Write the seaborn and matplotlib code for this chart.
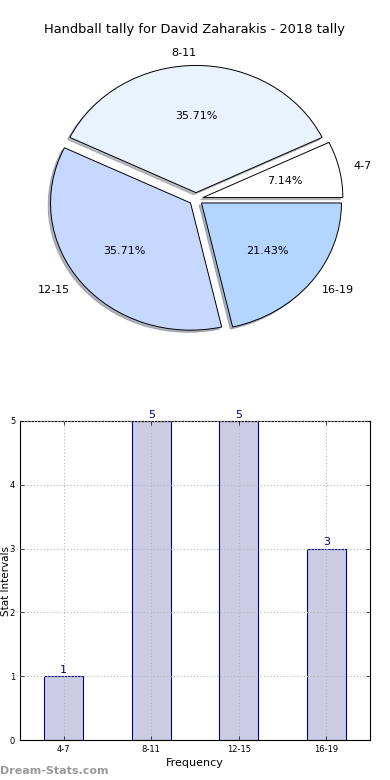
import seaborn as sns
import matplotlib
matplotlib.use("Agg")
import matplotlib.pyplot as plt
import pandas as pd

# data
ranges = ["4-7", "8-11", "12-15", "16-19"]
counts = [1, 5, 5, 3]
pie_colors = ["#ffffff", "#eaf1ff", "#c6d8ff", "#b3d5ff"]
bar_face = "#ccccE5"
bar_edge = "#000080"

plt.rcParams["font.family"] = ["DejaVu Sans"]
plt.rcParams["xtick.direction"] = "in"
plt.rcParams["ytick.direction"] = "in"
plt.rcParams["xtick.top"] = True
plt.rcParams["ytick.right"] = True

fig = plt.figure(figsize=(3.9, 7.8), dpi=100)
ax_pie = fig.add_axes([21 / 390, 1 - 358 / 780, 350 / 390, 318 / 780])
ax_bar = fig.add_axes([20 / 390, 1 - 740 / 780, 350 / 390, 319 / 780])

# pie
wedges, texts, autotexts = ax_pie.pie(
    counts, labels=ranges, colors=pie_colors, explode=[0.05] * 4,
    autopct="%1.2f%%", startangle=0,
    shadow=dict(ox=-0.012, oy=-0.012, shade=0.5),
    wedgeprops=dict(edgecolor="black", linewidth=0.7),
    textprops=dict(fontsize=8),
)
ax_pie.set_aspect("auto")
ax_pie.set_xlim(-1.25, 1.25)
ax_pie.set_ylim(-1.25, 1.25)
fig.text(0.5, 1 - 30 / 780, "Handball tally for David Zaharakis - 2018 tally",
         ha="center", va="center", fontsize=9.4)

# bars
df = pd.DataFrame({"range": ranges, "count": counts})
sns.barplot(data=df, x="range", y="count", ax=ax_bar, color=bar_face,
            saturation=1, width=0.45, edgecolor=bar_edge, linewidth=0.8)
for c in ax_bar.containers:
    ax_bar.bar_label(c, color=bar_edge, fontsize=8, padding=1)
ax_bar.set_xlim(-0.5, 3.5)
ax_bar.set_ylim(0, 5)
ax_bar.set_yticks(range(6))
ax_bar.grid(True, linestyle=(0, (1, 2)), color="#b5b5b5", linewidth=0.8)
ax_bar.set_axisbelow(False)
for p in ax_bar.patches:
    p.set_zorder(1)
ax_bar.tick_params(labelsize=6, length=3, width=0.5)
ax_bar.set_xlabel("Frequency", fontsize=8, labelpad=3)
ax_bar.set_ylabel("Stat Intervals", fontsize=7.5, va="center")
ax_bar.yaxis.set_label_coords(-14 / 350, 0.5)
for s in ax_bar.spines.values():
    s.set_linewidth(0.8)

fig.text(0.0, 1 - 771 / 780, "Dream-Stats.com", color="#999999",
         fontsize=8, fontweight="bold", ha="left", va="center")

fig.savefig("out.png", dpi=100)
